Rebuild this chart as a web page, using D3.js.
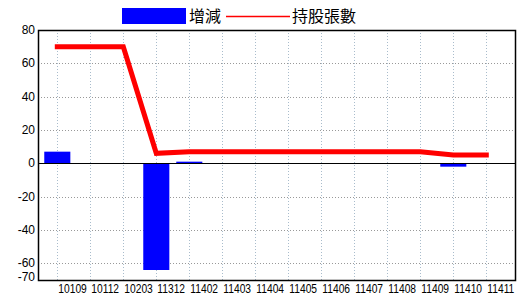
<html>
<head>
<meta charset="utf-8">
<title>持股張數</title>
<style>
  body { margin: 0; background: #fff; }
  .tick-x { font-family: "Liberation Sans", Arial, sans-serif; font-size: 13px; }
  .tick-y { font-family: "Liberation Sans", Arial, sans-serif; font-size: 12px; }
  .legend { font-family: "Noto Sans CJK TC", sans-serif; font-size: 16px; }
</style>
</head>
<body>
<svg id="chart" width="520" height="300"></svg>
<script src="https://d3js.org/d3.v7.min.js"></script>
<script>
  // data
  let months = ["10109", "10112", "10203", "11312", "11402", "11403", "11404",
                "11405", "11406", "11407", "11408", "11409", "11410", "11411"]
  let change = [7, 0, 0, -64, 1, 0, 0, 0, 0, 0, 0, 0, -2, 0]
  let holders = [70, 70, 70, 6, 7, 7, 7, 7, 7, 7, 7, 7, 5, 5]
  let yTicks = [80, 60, 40, 20, 0, -20, -40, -60, -70]
  let legendNames = ["增減", "持股張數"]

  let svg = d3.select("#chart")
  let plotL = 38, plotR = 516, plotT = 30, plotB = 280

  let x = d3.scalePoint()
      .domain(months)
      .range([57.3, 486.3])
  let barW = x.step() * 0.79

  let y = d3.scaleLinear()
      .domain([-70, 80])
      .range([plotB, plotT])

  // grid
  svg.append("g")
      .selectAll("line")
      .data(months)
      .enter()
      .append("line")
      .attr("x1", d => Math.round(x(d)) + 0.5)
      .attr("x2", d => Math.round(x(d)) + 0.5)
      .attr("y1", plotT)
      .attr("y2", plotB)
      .attr("stroke", "#a9bccc")
      .attr("stroke-dasharray", "1,2")

  svg.append("g")
      .selectAll("line")
      .data([60, 40, 20, -20, -40, -60])
      .enter()
      .append("line")
      .attr("x1", plotL)
      .attr("x2", plotR)
      .attr("y1", d => Math.round(y(d)) + 0.5)
      .attr("y2", d => Math.round(y(d)) + 0.5)
      .attr("stroke", "#999")
      .attr("stroke-dasharray", "1,2")

  // bars
  svg.append("g")
      .selectAll("rect")
      .data(change.map((v, i) => ({ m: months[i], v: v })).filter(d => d.v != 0))
      .enter()
      .append("rect")
      .attr("x", d => x(d.m) - barW / 2)
      .attr("width", barW)
      .attr("y", d => y(Math.max(0, d.v)))
      .attr("height", d => Math.abs(y(d.v) - y(0)))
      .attr("fill", "#0000ff")

  // zero line
  svg.append("line")
      .attr("x1", plotL)
      .attr("x2", plotR)
      .attr("y1", Math.round(y(0)) + 0.5)
      .attr("y2", Math.round(y(0)) + 0.5)
      .attr("stroke", "#000")

  // holders line
  let line = d3.line()
      .x((d, i) => x(months[i]))
      .y(d => y(d))
  svg.append("path")
      .datum(holders)
      .attr("d", line)
      .attr("fill", "none")
      .attr("stroke", "#ff0000")
      .attr("stroke-width", 5)
      .attr("stroke-linecap", "square")

  // frame
  svg.append("rect")
      .attr("x", plotL + 0.5)
      .attr("y", plotT + 0.5)
      .attr("width", plotR - plotL - 1)
      .attr("height", plotB - plotT)
      .attr("fill", "none")
      .attr("stroke", "#000")
      .attr("stroke-width", 1.5)

  // y labels
  svg.append("g")
      .selectAll("text")
      .data(yTicks)
      .enter()
      .append("text")
      .attr("class", "tick-y")
      .attr("x", plotL - 3)
      .attr("y", d => Math.min(y(d), plotB - 3) + 4)
      .attr("text-anchor", "end")
      .text(d => d)

  // x labels (squeezed horizontally for the narrow look)
  svg.append("g")
      .selectAll("text")
      .data(months)
      .enter()
      .append("text")
      .attr("class", "tick-x")
      .attr("transform", d => `translate(${x(d) + 1},293) scale(0.79,1)`)
      .text(d => d)

  // legend
  let lg = svg.append("g")
  lg.append("rect")
      .attr("x", 122).attr("y", 8)
      .attr("width", 64).attr("height", 16)
      .attr("fill", "#0000ff")
  lg.append("text")
      .attr("class", "legend")
      .attr("x", 189).attr("y", 22)
      .text(legendNames[0])
  lg.append("line")
      .attr("x1", 226).attr("x2", 290)
      .attr("y1", 16.5).attr("y2", 16.5)
      .attr("stroke", "#ff0000")
      .attr("stroke-width", 1.5)
  lg.append("text")
      .attr("class", "legend")
      .attr("x", 292).attr("y", 22)
      .text(legendNames[1])
</script>
</body>
</html>
